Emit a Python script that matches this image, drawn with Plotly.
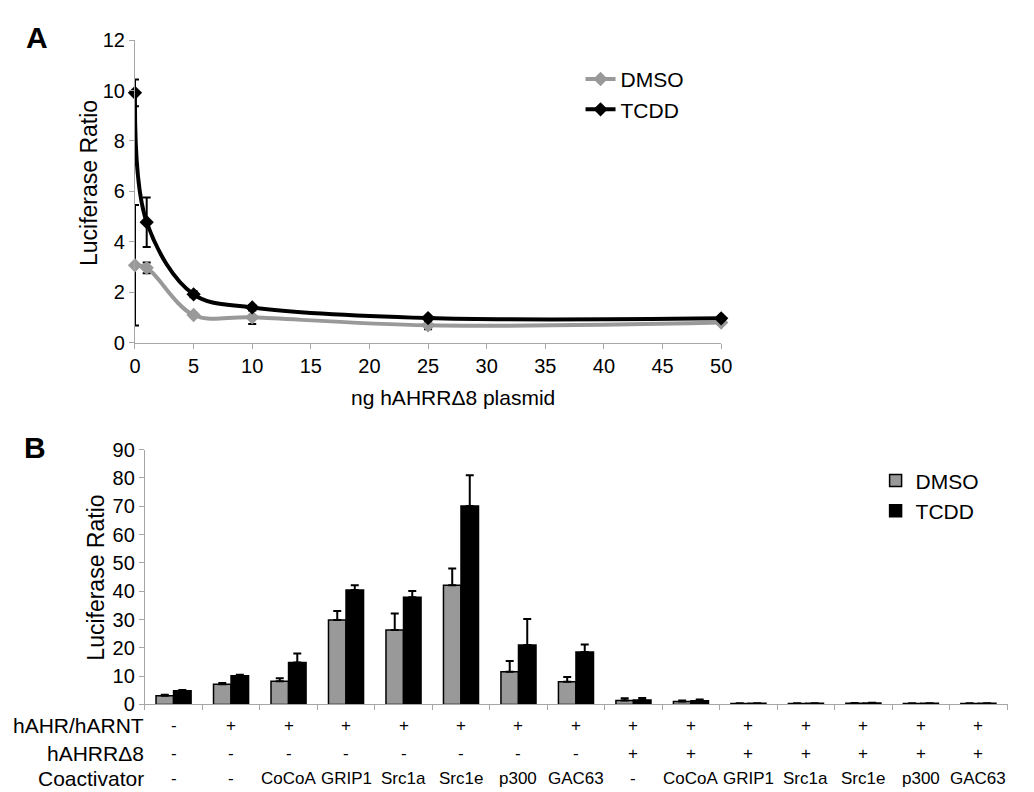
import plotly.graph_objects as go

W, H = 1034, 792
FONT = "Arial, Liberation Sans, Helvetica, sans-serif"

# ---------------- Panel A data ----------------
dose_ng = [0, 1, 5, 10, 25, 50]
dmso_a = [3.07, 2.97, 1.10, 1.01, 0.69, 0.80]
dmso_a_err = [2.39, 0.21, 0.08, 0.27, 0.15, 0.08]
tcdd_a = [9.91, 4.78, 1.92, 1.40, 0.98, 0.97]
tcdd_a_err = [0.53, 0.98, 0.12, 0.10, 0.06, 0.06]

# ---------------- Panel B data ----------------
row_ahr_arnt = ["-", "+", "+", "+", "+", "+", "+", "+", "+", "+", "+", "+", "+", "+", "+"]
row_ahrr = ["-", "-", "-", "-", "-", "-", "-", "-", "+", "+", "+", "+", "+", "+", "+"]
row_coact = ["-", "-", "CoCoA", "GRIP1", "Src1a", "Src1e", "p300", "GAC63",
             "-", "CoCoA", "GRIP1", "Src1a", "Src1e", "p300", "GAC63"]
dmso_b = [3.1, 7.1, 8.2, 29.8, 26.3, 42.1, 11.5, 8.0, 1.4, 1.0, 0.35, 0.35, 0.45, 0.35, 0.35]
dmso_b_err = [0.3, 0.5, 1.0, 3.2, 5.8, 5.9, 3.8, 1.7, 0.8, 0.4, 0.05, 0.05, 0.05, 0.05, 0.05]
tcdd_b = [4.8, 10.1, 14.8, 40.4, 37.9, 70.1, 21.0, 18.5, 1.6, 1.3, 0.4, 0.4, 0.5, 0.4, 0.4]
tcdd_b_err = [0.3, 0.4, 3.2, 1.7, 2.2, 10.9, 9.2, 2.7, 0.7, 0.4, 0.05, 0.05, 0.05, 0.05, 0.05]

row_labels = ["hAHR/hARNT", "hAHRR\u03948", "Coactivator"]
rows = [row_ahr_arnt, row_ahrr, row_coact]
cat_keys = ["|".join(t) + f"#{i}" for i, t in enumerate(zip(*rows))]

GRAY = "#999999"
AXC = "#a6a6a6"


def px_x(p):
    return p / W


def px_y(p):
    return 1 - p / H


fig = go.Figure()

# Panel A
fig.add_trace(go.Scatter(
    x=dose_ng, y=dmso_a, name="DMSO", mode="lines+markers",
    line=dict(color=GRAY, width=4, shape="spline", smoothing=1.0),
    marker=dict(symbol="diamond", size=11, color=GRAY),
    error_y=dict(type="data", array=dmso_a_err, color="black", thickness=2, width=4),
    cliponaxis=False, legend="legend", xaxis="x", yaxis="y"))
fig.add_trace(go.Scatter(
    x=dose_ng, y=tcdd_a, name="TCDD", mode="lines+markers",
    line=dict(color="black", width=4, shape="spline", smoothing=1.0),
    marker=dict(symbol="diamond", size=11, color="black"),
    error_y=dict(type="data", array=tcdd_a_err, color="black", thickness=2, width=4),
    cliponaxis=False, legend="legend", xaxis="x", yaxis="y"))

# Panel B
fig.add_trace(go.Bar(
    x=cat_keys, y=dmso_b, name="DMSO",
    marker=dict(color=GRAY, line=dict(color="black", width=1.5)),
    error_y=dict(type="data", symmetric=False, array=dmso_b_err,
                 arrayminus=[0] * len(dmso_b_err), color="black", thickness=2, width=4),
    legend="legend2", xaxis="x2", yaxis="y2"))
fig.add_trace(go.Bar(
    x=cat_keys, y=tcdd_b, name="TCDD",
    marker=dict(color="black", line=dict(color="black", width=1.5)),
    error_y=dict(type="data", symmetric=False, array=tcdd_b_err,
                 arrayminus=[0] * len(tcdd_b_err), color="black", thickness=2, width=4),
    legend="legend2", xaxis="x2", yaxis="y2"))

axis_common = dict(showline=True, linecolor=AXC, linewidth=1, ticks="outside",
                   ticklen=5, tickcolor=AXC, showgrid=False, zeroline=False,
                   tickfont=dict(family=FONT, size=20, color="black"))


def ann(text, x, y, size, xref="paper", xanchor="center", angle=0):
    return dict(text=text, x=x, y=y, xref=xref, yref="paper", xanchor=xanchor,
                yanchor="middle", textangle=angle, showarrow=False,
                font=dict(family=FONT, size=size, color="black"))


annotations = [
    ann("<b>A</b>", px_x(23), px_y(19), 30),
    ann("<b>B</b>", px_x(21), px_y(441), 30),
    ann("Luciferase Ratio", px_x(77), px_y(169), 23, angle=-90),
    ann("Luciferase Ratio", px_x(83), px_y(575), 23, angle=-90),
    ann("ng hAHRR\u03948 plasmid", px_x(446), px_y(389), 21),
]

row_y = [727, 755, 781]
for label, vals, ry in zip(row_labels, rows, row_y):
    annotations.append(ann(label, px_x(134), px_y(ry), 21, xanchor="right"))
    for key, v in zip(cat_keys, vals):
        annotations.append(ann(v, key, px_y(ry), 17, xref="x2"))

fig.update_layout(
    width=W, height=H, margin=dict(l=0, r=0, t=0, b=0),
    paper_bgcolor="white", plot_bgcolor="white",
    font=dict(family=FONT, color="black"),
    barmode="group", bargap=0.39, bargroupgap=0.0,
    xaxis=dict(domain=[px_x(123), px_x(719)], range=[0, 50], tickvals=list(range(0, 51, 5)),
               anchor="y", **axis_common),
    yaxis=dict(domain=[px_y(333), px_y(21.7)], range=[0, 12], dtick=2, anchor="x",
               **axis_common),
    xaxis2=dict(domain=[px_x(133), px_x(1011)], type="category", tickson="boundaries",
                showticklabels=False, anchor="y2", **axis_common),
    yaxis2=dict(domain=[px_y(705), px_y(443)], range=[0, 90], dtick=10, anchor="x2",
                **axis_common),
    legend=dict(x=px_x(576), y=px_y(41), xanchor="left", yanchor="top",
                bgcolor="rgba(0,0,0,0)", font=dict(family=FONT, size=21, color="black"),
                itemwidth=30, tracegroupgap=0),
    legend2=dict(x=px_x(876), y=px_y(454), xanchor="left", yanchor="top",
                 bgcolor="rgba(0,0,0,0)", font=dict(family=FONT, size=21, color="black"),
                 itemwidth=30, tracegroupgap=0),
    annotations=annotations,
    showlegend=True,
)

fig.write_html("out.html")
